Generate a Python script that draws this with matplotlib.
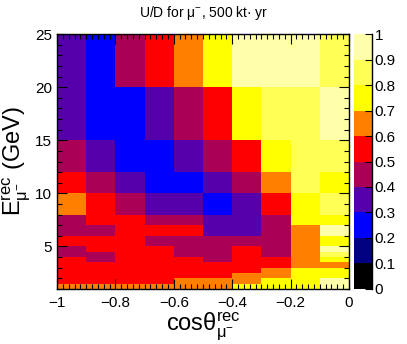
import numpy as np
import matplotlib
matplotlib.use('Agg')
from matplotlib import pyplot as plt
from matplotlib.colors import ListedColormap, BoundaryNorm

plt.rcParams['font.family'] = ['Liberation Sans', 'DejaVu Sans']
plt.rcParams['mathtext.fontset'] = 'custom'
plt.rcParams['mathtext.rm'] = 'Liberation Sans'
plt.rcParams['mathtext.it'] = 'Liberation Sans:italic'
plt.rcParams['axes.unicode_minus'] = True

# bin edges
cos_edges = [-1.0, -0.9, -0.8, -0.7, -0.6, -0.5, -0.4, -0.3, -0.2, -0.1, 0.0]
e_edges = [1, 1.5, 2, 2.5, 3, 3.5, 4, 4.5, 5, 6, 7, 8, 10, 12, 15, 20, 25]

# U/D ratio per bin, rows from lowest energy bin upwards, columns cos -1 -> 0
ud_1_15 = [0.65, 0.65, 0.65, 0.65, 0.65, 0.65, 0.75, 0.75, 0.75, 0.95]
ud_15_2 = [0.55, 0.55, 0.55, 0.55, 0.65, 0.65, 0.65, 0.75, 0.75, 0.95]
ud_2_25 = [0.55, 0.55, 0.55, 0.55, 0.55, 0.55, 0.65, 0.65, 0.75, 0.75]
ud_25_3 = [0.55, 0.55, 0.55, 0.55, 0.55, 0.55, 0.55, 0.65, 0.75, 0.75]
ud_3_35 = [0.55, 0.55, 0.55, 0.55, 0.55, 0.55, 0.55, 0.55, 0.65, 0.65]
ud_35_4 = [0.55, 0.45, 0.55, 0.55, 0.55, 0.45, 0.55, 0.55, 0.65, 0.75]
ud_4_45 = [0.45, 0.45, 0.55, 0.55, 0.45, 0.45, 0.55, 0.45, 0.65, 0.85]
ud_45_5 = [0.45, 0.55, 0.55, 0.55, 0.45, 0.45, 0.55, 0.45, 0.65, 0.95]
ud_5_6 = [0.55, 0.55, 0.55, 0.45, 0.45, 0.45, 0.45, 0.45, 0.65, 0.75]
ud_6_7 = [0.45, 0.45, 0.55, 0.55, 0.55, 0.35, 0.35, 0.45, 0.65, 0.95]
ud_7_8 = [0.45, 0.55, 0.55, 0.45, 0.45, 0.35, 0.35, 0.45, 0.75, 0.75]
ud_8_10 = [0.65, 0.55, 0.45, 0.35, 0.35, 0.25, 0.35, 0.55, 0.75, 0.85]
ud_10_12 = [0.55, 0.45, 0.35, 0.25, 0.25, 0.35, 0.45, 0.65, 0.85, 0.75]
ud_12_15 = [0.45, 0.35, 0.25, 0.25, 0.35, 0.45, 0.55, 0.75, 0.85, 0.85]
ud_15_20 = [0.35, 0.25, 0.25, 0.35, 0.45, 0.55, 0.75, 0.85, 0.85, 0.95]
ud_20_25 = [0.35, 0.25, 0.45, 0.55, 0.65, 0.75, 0.95, 0.95, 0.95, 0.85]

ratio = np.array([ud_1_15, ud_15_2, ud_2_25, ud_25_3, ud_3_35, ud_35_4, ud_4_45,
                  ud_45_5, ud_5_6, ud_6_7, ud_7_8, ud_8_10, ud_10_12, ud_12_15,
                  ud_15_20, ud_20_25])

palette = ['#000000', '#000080', '#0000ff', '#5500aa', '#aa0055',
           '#ff0000', '#ff8000', '#ffff00', '#ffff55', '#ffffaa']
levels = [0, 0.1, 0.2, 0.3, 0.4, 0.5, 0.6, 0.7, 0.8, 0.9, 1.0]
cmap = ListedColormap(palette)
norm = BoundaryNorm(levels, cmap.N)

fig = plt.figure(figsize=(4.07, 3.44), dpi=100)
ax = fig.add_axes([0.140, 0.160, 0.7175, 0.741])
cax = fig.add_axes([0.870, 0.160, 0.044, 0.741])

mesh = ax.pcolormesh(cos_edges, e_edges, ratio, cmap=cmap, norm=norm)
ax.set_xlim(-1, 0)
ax.set_ylim(1, 25)
ax.set_xticks([-1, -0.8, -0.6, -0.4, -0.2, 0])
ax.set_xticklabels(['\u22121', '\u22120.8', '\u22120.6', '\u22120.4', '\u22120.2', '0'])
ax.set_xticks(np.arange(-1, 0.001, 0.02), minor=True)
ax.set_yticks([5, 10, 15, 20, 25])
ax.set_yticks(range(1, 26), minor=True)
ax.tick_params(which='both', direction='in', top=True, right=True, labelsize=11)
ax.tick_params(which='major', length=7, width=0.8)
ax.tick_params(which='minor', length=3.5, width=0.8)
ax.tick_params(axis='x', pad=5)
for s in ax.spines.values():
    s.set_linewidth(1.0)

ax.set_xlabel(r'cos$\mathregular{θ^{rec}_{μ^{-}}}$', fontsize=17, labelpad=0)
ax.set_ylabel(r'$\mathregular{E^{rec}_{μ^{-}}}$ (GeV)', fontsize=17, labelpad=2)
fig.text(0.5, 0.963, 'U/D for $\\mathregular{μ^{-}}$, 500 kt\u00b7 yr',
         ha='center', va='center', fontsize=10)

cb = fig.colorbar(mesh, cax=cax, ticks=levels)
cb.outline.set_visible(False)
cax.set_yticklabels(['0', '0.1', '0.2', '0.3', '0.4', '0.5', '0.6', '0.7', '0.8', '0.9', '1'])
cax.tick_params(direction='in', length=5, width=0.8, labelsize=11, pad=2)
cax.plot([1, 1], [0, 1], transform=cax.transAxes, color='black', lw=1, clip_on=False)

fig.savefig('out.png', dpi=100)
